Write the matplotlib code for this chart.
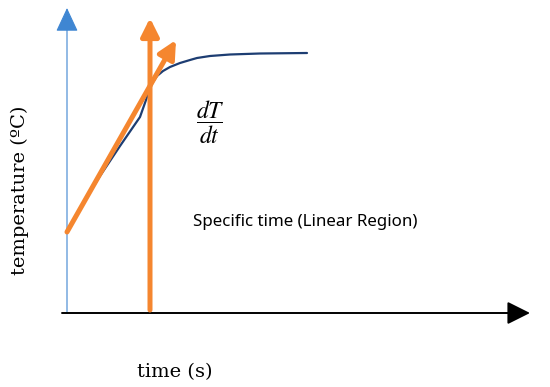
import matplotlib.pyplot as plt

plt.rcParams['mathtext.fontset'] = 'stix'

# Schematic temperature curve (arbitrary units)
time = [0.5, 1.8, 3.3, 5.3, 7.3, 7.9, 8.3, 8.6, 9.0, 9.6, 10.3, 11.3, 12.3,
        13.0, 14.3, 16.3, 19.3, 24.0]
temp = [8.9, 11.3, 13.7, 16.7, 19.6, 21.3, 22.5, 23.1, 23.7, 24.2, 24.6, 25.0,
        25.3, 25.5, 25.7, 25.85, 25.95, 26.0]

# Tangent (dT/dt) arrow: start and tip
tangent_t = [0.0, 10.9]
tangent_T = [8.1, 27.3]

# Vertical marker at the specific time
t_specific = 8.3
marker_T = [0.3, 29.5]

# Axis extents
t_axis = [-0.5, 46.3]
T_axis = [0.0, 30.5]

ORANGE = '#f5862f'
NAVY = '#1d3d72'
BLUE = '#3f86d2'

fig = plt.figure(figsize=(5.5, 3.87), dpi=100)
ax = fig.add_axes([0, 0, 1, 1])
ax.set_xlim(-6.7, 48.3)
ax.set_ylim(-7.4, 31.3)
ax.axis('off')

def arrow(x0, y0, x1, y1, color, lw, hl, hw, ms=10, z=2):
    ax.annotate('', xy=(x1, y1), xytext=(x0, y0),
                arrowprops=dict(arrowstyle=f'-|>,head_length={hl},head_width={hw}',
                                color=color, lw=lw, shrinkA=0, shrinkB=0,
                                mutation_scale=ms),
                zorder=z)

# axes
arrow(0, T_axis[0], 0, T_axis[1], BLUE, 0.8, 1.5, 0.7)
arrow(t_axis[0], 0, t_axis[1], 0, 'black', 1.4, 1.4, 0.7)

# curve
ax.plot(time, temp, color=NAVY, lw=1.6, solid_capstyle='round',
        solid_joinstyle='round', zorder=3)

# vertical marker and tangent
arrow(t_specific, marker_T[0], t_specific, marker_T[1], ORANGE, 3.6, 0.9, 0.45, ms=12, z=4)
arrow(tangent_t[0], tangent_T[0], tangent_t[1], tangent_T[1], ORANGE, 3.6, 0.9, 0.45, ms=12, z=4)

# labels
ax.text(14.3, 19.1, r'$\dfrac{dT}{dt}$', fontsize=17, ha='center', va='center')
ax.text(12.6, 9.1, 'Specific time (Linear Region)', fontsize=12.2,
        family='Noto Sans', ha='left', va='center')
ax.text(-4.7, 12.3, 'temperature (ºC)', fontsize=14, family='DejaVu Serif',
        rotation=90, ha='center', va='center')
ax.text(10.8, -5.9, 'time (s)', fontsize=14, family='DejaVu Serif',
        ha='center', va='center')

fig.savefig('out.png', dpi=100)
